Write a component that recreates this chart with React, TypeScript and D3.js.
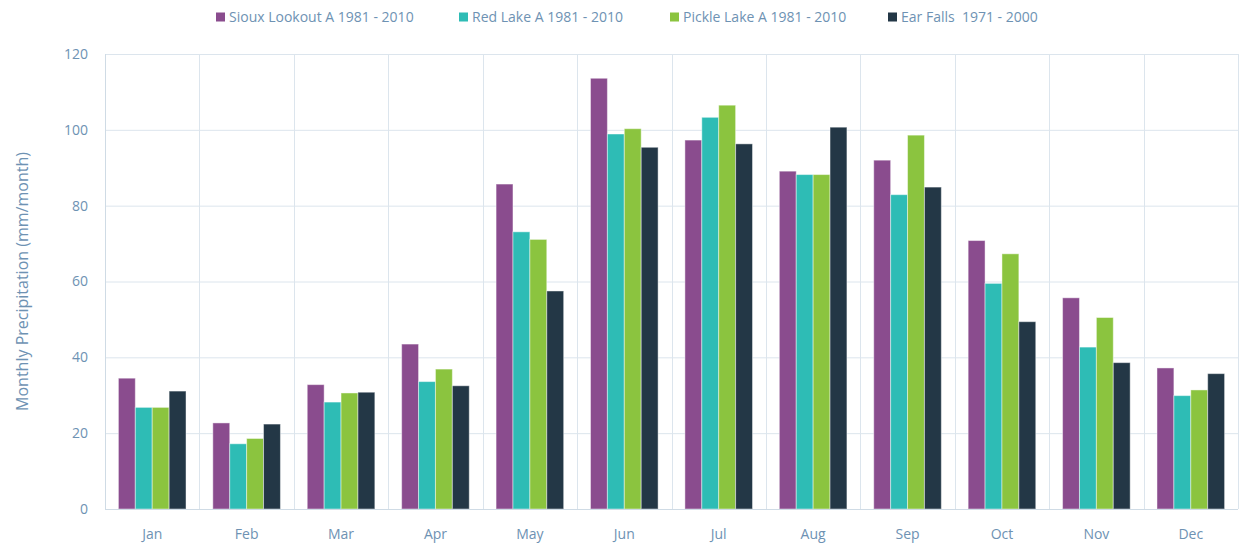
import React, { useEffect, useRef } from 'react';
import * as d3 from 'd3';

const months = ['Jan', 'Feb', 'Mar', 'Apr', 'May', 'Jun', 'Jul', 'Aug', 'Sep', 'Oct', 'Nov', 'Dec'];
const seriesNames = ['Sioux Lookout A 1981 - 2010', 'Red Lake A 1981 - 2010', 'Pickle Lake A 1981 - 2010', 'Ear Falls  1971 - 2000'];
const siouxLookout = [34.5, 22.7, 32.8, 43.5, 85.7, 113.6, 97.3, 89.1, 92.0, 70.8, 55.7, 37.2];
const redLake = [26.8, 17.2, 28.2, 33.6, 73.1, 98.9, 103.3, 88.2, 82.9, 59.5, 42.7, 29.9];
const pickleLake = [26.8, 18.6, 30.6, 36.9, 71.1, 100.3, 106.5, 88.2, 98.6, 67.3, 50.5, 31.4];
const earFalls = [31.1, 22.4, 30.8, 32.5, 57.5, 95.4, 96.3, 100.7, 84.9, 49.4, 38.6, 35.7];
const yTicks = [0, 20, 40, 60, 80, 100, 120];
const colors = ['#8a4c8e', '#2ebcb5', '#8bc43f', '#233746'];

export default function App() {
    const ref = useRef<SVGSVGElement | null>(null);
    useEffect(() => {
        const svg = d3.select(ref.current);
        svg.selectAll('*').remove();
        const width = 1241, height = 550;
        const margin = { top: 54, right: 3, bottom: 41, left: 105 };
        const font = '"Open Sans", sans-serif';
        const textColor = '#6e92b3';
        const gridColor = '#dce5ed';
        const series = [siouxLookout, redLake, pickleLake, earFalls];

        svg.attr('viewBox', `0 0 ${width} ${height}`);

        const x = d3.scaleBand().domain(months).range([margin.left, width - margin.right]).paddingInner(0.284).paddingOuter(0.142);
        const x1 = d3.scaleBand().domain(d3.range(series.length).map(String)).range([0, x.bandwidth()]);
        const y = d3.scaleLinear().domain([0, 120]).range([height - margin.bottom, margin.top]);
        const step = x.step();

        // grid
        const grid = svg.append('g');
        grid.selectAll('line.h').data(yTicks).join('line')
            .attr('x1', margin.left).attr('x2', width - margin.right)
            .attr('y1', d => y(d) + 0.5).attr('y2', d => y(d) + 0.5)
            .attr('stroke', gridColor).attr('stroke-width', 1);
        grid.selectAll('line.v').data(d3.range(months.length + 1)).join('line')
            .attr('x1', i => Math.round(margin.left + i * step) + 0.5)
            .attr('x2', i => Math.round(margin.left + i * step) + 0.5)
            .attr('y1', y(120)).attr('y2', y(0))
            .attr('stroke', gridColor).attr('stroke-width', 1);

        // bars
        const groups = svg.append('g').selectAll('g').data(months).join('g')
            .attr('transform', m => `translate(${x(m)},0)`);
        groups.selectAll('rect')
            .data((m, mi) => series.map((s, si) => ({ si, v: s[mi] })))
            .join('rect')
            .attr('x', d => x1(String(d.si))!)
            .attr('y', d => y(d.v))
            .attr('width', x1.bandwidth())
            .attr('height', d => y(0) - y(d.v))
            .attr('fill', d => colors[d.si])
            .attr('stroke', 'rgba(255,255,255,0.45)')
            .attr('stroke-width', 1);

        // axes lines
        svg.append('line')
            .attr('x1', margin.left).attr('x2', width - margin.right)
            .attr('y1', y(0) + 0.5).attr('y2', y(0) + 0.5)
            .attr('stroke', '#cfdbe5');
        svg.append('line')
            .attr('x1', margin.left + 0.5).attr('x2', margin.left + 0.5)
            .attr('y1', y(120)).attr('y2', y(0))
            .attr('stroke', '#cfdbe5');

        // tick labels
        svg.append('g').selectAll('text').data(yTicks).join('text')
            .attr('x', 88).attr('y', d => y(d))
            .attr('dy', '0.35em')
            .attr('text-anchor', 'end')
            .attr('font-family', font).attr('font-size', 14)
            .attr('fill', textColor)
            .text(d => d);
        svg.append('g').selectAll('text').data(months).join('text')
            .attr('x', m => x(m)! + x.bandwidth() / 2).attr('y', 539)
            .attr('text-anchor', 'middle')
            .attr('font-family', font).attr('font-size', 14)
            .attr('fill', textColor)
            .text(m => m);

        // y title
        svg.append('text')
            .attr('transform', `translate(28,${(y(0) + y(120)) / 2}) rotate(-90)`)
            .attr('text-anchor', 'middle')
            .attr('font-family', font).attr('font-size', 16)
            .attr('fill', textColor)
            .text('Monthly Precipitation (mm/month)');

        // legend
        const legendX = [216, 459, 670, 888];
        const legend = svg.append('g').selectAll('g').data(seriesNames).join('g')
            .attr('transform', (d, i) => `translate(${legendX[i]},17)`);
        legend.append('rect')
            .attr('x', 0).attr('y', -4.5).attr('width', 9).attr('height', 9)
            .attr('fill', (d, i) => colors[i]);
        legend.append('text')
            .attr('x', 13).attr('dy', '0.35em')
            .attr('font-family', font).attr('font-size', 14)
            .attr('fill', textColor)
            .style('white-space', 'pre')
            .text(d => d);
    }, []);
    return <svg ref={ref} width={1241} height={550} style={{ position: 'absolute', left: 0, top: 0 }} />;
}
